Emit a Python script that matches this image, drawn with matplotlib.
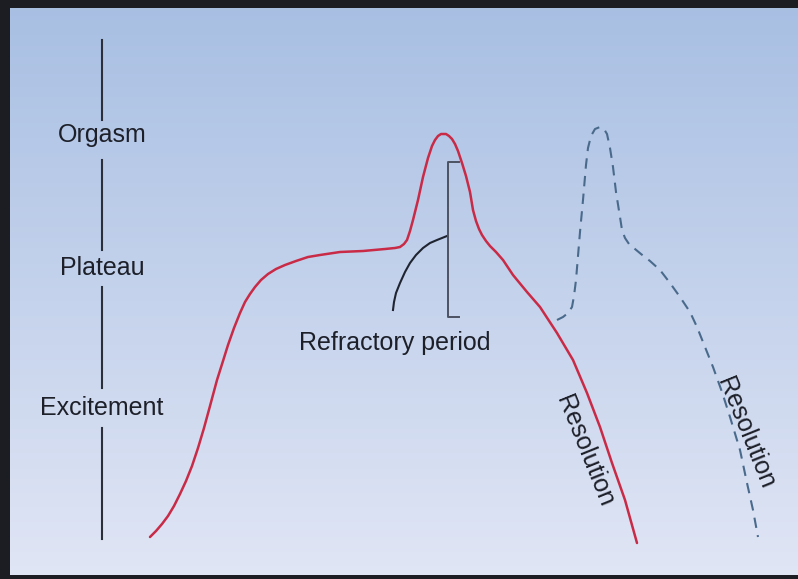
"""Sexual response cycle diagram redrawn with matplotlib"""
import numpy as np
import matplotlib.pyplot as plt

# CONSTANTS
W, H = 798, 579

# phase labels on the left axis (label, y)
phase_labels = ["Orgasm", "Plateau", "Excitement"]
phase_y = [135, 268, 408]
# axis segments between labels
axis_top = [40, 160, 287, 428]
axis_bot = [120, 250, 388, 539]

# first response (solid red)
red_x = [150, 156, 162, 168, 174, 180, 186, 192, 198, 204, 210, 217, 223, 228,
         234, 240, 245, 250, 255, 261, 268, 276, 285, 296, 308, 320, 340, 363,
         385, 395, 400, 404, 407, 410, 413, 418, 423, 428, 432, 435, 438, 441,
         443, 446, 449, 452, 455, 458, 462, 466, 470, 473, 476, 479, 482, 486,
         490, 496, 503, 513, 527, 540, 557, 573, 587, 600, 612, 625, 637]
red_y = [537, 531, 524, 516, 506, 494, 481, 466, 448, 428, 406, 380, 361, 345,
         328, 313, 302, 294, 287, 280, 274, 269, 265, 261, 257, 255, 252, 251,
         249, 248, 247, 244, 240, 231, 220, 200, 177, 158, 146, 140, 136, 134,
         134, 134, 136, 139, 144, 151, 163, 176, 192, 210, 221, 229, 235, 241,
         246, 252, 260, 275, 292, 307, 333, 360, 393, 427, 463, 500, 543]

# second response (dashed blue)
blue_x = [557, 563, 568, 572, 574, 576, 578, 580, 583, 586, 588, 591, 595, 600,
          604, 607, 610, 613, 616, 620, 622, 625, 629, 635, 641, 650, 660, 670,
          680, 690, 697, 705, 713, 722, 730, 740, 747, 753, 758]
blue_y = [320, 317, 313, 307, 296, 280, 256, 232, 200, 165, 148, 136, 129, 127,
          129, 134, 148, 167, 192, 217, 230, 238, 244, 249, 254, 261, 270, 283,
          297, 312, 327, 347, 367, 392, 417, 450, 483, 510, 537]

# refractory arc and bracket
arc_x = [393, 394, 396, 400, 405, 410, 416, 423, 430, 437, 442, 447]
arc_y = [310, 302, 293, 283, 272, 263, 255, 248, 243, 240, 238, 236]
brk_x = [459, 448, 448, 459]
brk_y = [162, 162, 317, 317]


if __name__ == "__main__":
    plt.rcParams['font.family'] = ['Liberation Sans', 'DejaVu Sans']

    fig = plt.figure(figsize=(W / 100, H / 100), dpi=100, facecolor='#1c1d22')
    ax = fig.add_axes([0, 0, 1, 1])
    ax.set_xlim(0, W)
    ax.set_ylim(H, 0)
    ax.axis('off')

    # blue vertical gradient background inside the dark frame
    top = np.array([0.66, 0.75, 0.89])
    bot = np.array([0.88, 0.90, 0.96])
    t = np.linspace(0, 1, 256)[:, None, None]
    grad = top + (bot - top) * t
    grad = np.repeat(grad, 2, axis=1)
    ax.imshow(grad, extent=(10, W, 575, 8), aspect='auto', zorder=0)

    # left axis with phase labels
    for y0, y1 in zip(axis_top, axis_bot):
        ax.plot([102, 102], [y0, y1], color='#2b2f3a', lw=1.5, zorder=2)
    for lab, y in zip(phase_labels, phase_y):
        ax.text(102, y, lab, ha='center', va='center', fontsize=18,
                color='#1d2029', zorder=3)

    ax.plot(red_x, red_y, color='#c92a46', lw=1.8, solid_joinstyle='round',
            solid_capstyle='round', zorder=3)
    ax.plot(blue_x, blue_y, color='#4a6a8c', lw=1.5, ls=(0, (5, 3.5)), zorder=3)
    ax.plot(arc_x, arc_y, color='#1f2430', lw=1.5, zorder=3)
    ax.plot(brk_x, brk_y, color='#4c5262', lw=1.4, zorder=3)

    ax.text(395, 343, "Refractory period", ha='center', va='center',
            fontsize=18, color='#1d2029', zorder=3)
    ax.text(585, 451, "Resolution", ha='center', va='center', rotation=-68,
            rotation_mode='anchor', fontsize=18, color='#1d2029', zorder=3)
    ax.text(746, 433, "Resolution", ha='center', va='center', rotation=-68,
            rotation_mode='anchor', fontsize=18, color='#1d2029', zorder=3)

    plt.savefig("out.png", dpi=100, facecolor=fig.get_facecolor())
